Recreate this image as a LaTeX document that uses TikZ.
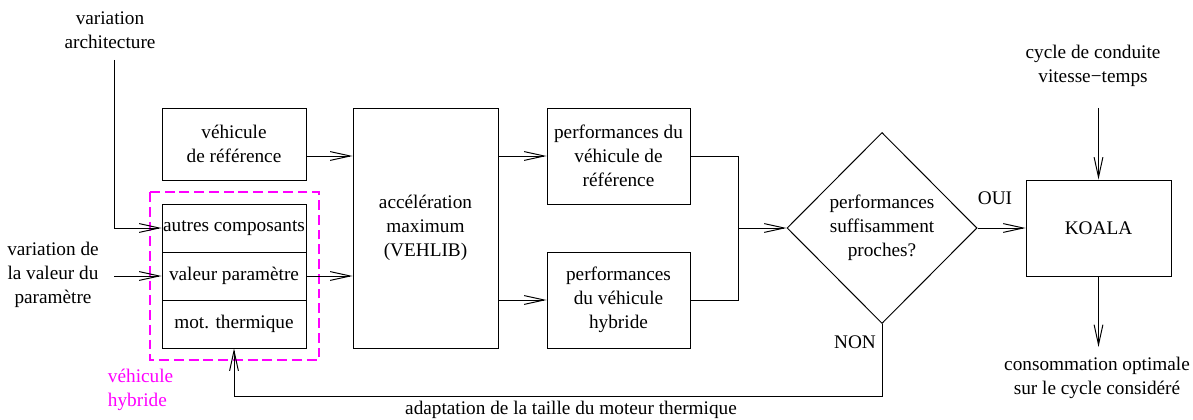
\documentclass[tikz,border=0pt]{standalone}
\usepackage{fontspec}
\setmainfont{Liberation Serif}
\usepackage{tikz}
\usetikzlibrary{arrows.meta,shapes.geometric}
\definecolor{mMagenta}{HTML}{FF00FF}

\tikzset{
  boite/.style={draw, line width=0.7pt, inner sep=0pt, align=center},
  fleche/.style={line width=0.7pt, -{Straight Barb[length=0.5cm,width=0.22cm]}},
  trait/.style={line width=0.7pt},
}

\begin{document}
\begin{tikzpicture}[font=\fontsize{13.7}{17}\selectfont]
        \useasboundingbox (0,0) rectangle (29.825,10.475);

        % vehicule de reference et vehicule hybride
        \node[boite, minimum width=3.6cm, minimum height=1.8cm] (vehref) at (5.85,6.875) {véhicule\\de référence};
        \node[boite, minimum width=3.6cm, minimum height=1.2cm] (autres) at (5.85,4.775) {autres composants};
        \node[boite, minimum width=3.6cm, minimum height=1.2cm] (valeur) at (5.85,3.575) {valeur paramètre};
        \node[boite, minimum width=3.6cm, minimum height=1.2cm] (motth)  at (5.85,2.375) {mot. thermique};
        \draw[mMagenta, line width=0.8pt, dash pattern=on 7pt off 3.5pt] (3.75,5.675) rectangle (7.975,1.475);
        \node[mMagenta, anchor=west, align=left] (hybl) at (2.575,0.725) {véhicule\\hybride};

        % entrees
        \node[align=center] (varch) at (2.75,9.725) {variation\\architecture};
        \node[align=center] (varpar) at (1.325,3.6) {variation de\\la valeur du\\paramètre};
        \coordinate (archi) at (2.85,8.975);
        \coordinate (varp) at (2.85,3.575);

        % calcul
        \node[boite, minimum width=3.625cm, minimum height=6cm] (accel) at (10.6375,4.775) {accélération\\maximum\\(VEHLIB)};
        \node[boite, minimum width=3.575cm, minimum height=2.4cm] (perfref) at (15.4625,6.575) {performances du\\véhicule de\\référence};
        \node[boite, minimum width=3.575cm, minimum height=2.4cm] (perfhyb) at (15.4625,2.975) {performances\\du véhicule\\hybride};
        \coordinate (jonction) at (18.45,4.775);

        % test
        \node[draw, line width=0.7pt, diamond, aspect=1, minimum width=4.75cm, minimum height=4.775cm, inner sep=0pt, align=center] (test) at (22.05,4.775) {performances\\suffisamment\\proches?};
        \node (oui) at (24.875,5.525) {OUI};
        \node (non) at (21.375,1.925) {NON};
        \coordinate (retour) at (22.05,0.575);
        \node (adapt) at (14.275,0.225) {adaptation de la taille du moteur thermique};

        % koala
        \node[boite, minimum width=3.625cm, minimum height=2.4cm] (koala) at (27.4625,4.775) {KOALA};
        \node[align=center] (cycle) at (27.325,8.825) {cycle de conduite\\vitesse\textminus temps};
        \node[align=center] (conso) at (27.425,1.025) {consommation optimale\\sur le cycle considéré};
        \coordinate (cyc) at (27.4625,7.775);
        \coordinate (cons) at (27.4625,1.8);

        % liaisons
        \draw[fleche] (archi) |- (autres.west);
        \draw[fleche] (varp) -- (valeur.west);
        \draw[fleche] (vehref.east |- perfref) -- (accel.west |- perfref);
        \draw[fleche] (valeur.east) -- (accel.west |- valeur.east);
        \draw[fleche] (accel.east |- perfref) -- (perfref.west);
        \draw[fleche] (accel.east |- perfhyb) -- (perfhyb.west);
        \draw[trait] (perfref.east) -| (jonction) |- (perfhyb.east);
        \draw[fleche] (jonction) -- (test.west);
        \draw[fleche] (test.east) -- (koala.west);
        \draw[fleche] (cyc) -- (koala.north);
        \draw[fleche] (koala.south) -- (cons);
        \draw[fleche] (test.south) -- (retour) -| (motth.south);
\end{tikzpicture}
\end{document}
